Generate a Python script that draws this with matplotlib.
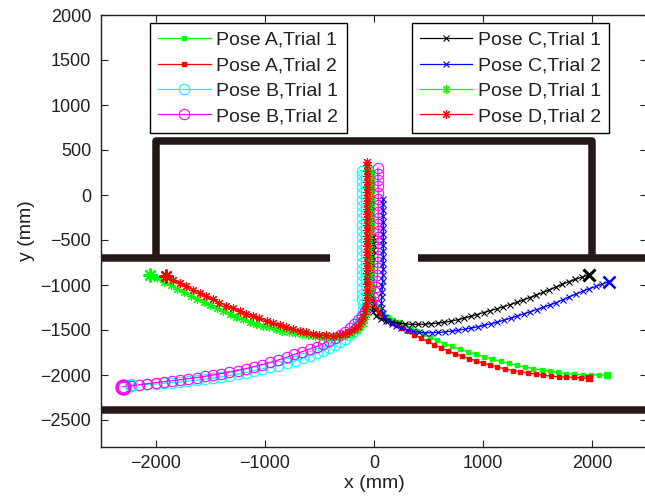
import matplotlib
matplotlib.use("Agg")
import matplotlib.pyplot as plt

plt.rcParams['font.family'] = ['Liberation Sans', 'DejaVu Sans']

# ---------------- data (mm) ----------------
a1_x = [2135, 2060, 1985, 1910, 1835, 1760, 1685, 1610, 1535, 1460, 1385, 1310, 1235, 1160, 1085, 1010, 935, 860,
        785, 715, 645, 580, 515, 452, 390, 335, 280, 225, 177, 130, 85, 50, 24, 5, -8, -15, -18, -20, -21, -22, -22,
        -22, -22, -22, -21, -21, -21, -20, -20, -20, -19, -19, -18, -18, -17]
a1_y = [-2000, -2001, -2000, -1997, -1992, -1984, -1972, -1959, -1945, -1929, -1911, -1892, -1870, -1848, -1823,
        -1797, -1769, -1741, -1713, -1682, -1650, -1616, -1582, -1547, -1510, -1478, -1446, -1414, -1385, -1350,
        -1315, -1275, -1235, -1190, -1140, -1080, -1010, -940, -870, -800, -730, -660, -590, -520, -450, -380, -310,
        -240, -170, -100, -30, 40, 110, 180, 250]

a2_x = [1966, 1900, 1829, 1760, 1690, 1620, 1550, 1480, 1410, 1340, 1270, 1200, 1130, 1064, 1000, 935, 870, 805,
        740, 675, 610, 550, 490, 430, 370, 315, 260, 210, 165, 120, 80, 45, 20, 0, -15, -24, -28, -30, -31, -32, -32,
        -32, -32, -32, -32, -32, -32, -31, -31, -31, -30, -30, -30, -29]
a2_y = [-2037, -2032, -2026, -2023, -2020, -2012, -2003, -1990, -1977, -1963, -1950, -1932, -1912, -1889, -1867,
        -1843, -1818, -1790, -1762, -1730, -1697, -1663, -1627, -1590, -1550, -1512, -1475, -1444, -1418, -1385,
        -1350, -1310, -1265, -1215, -1160, -1100, -1035, -970, -900, -830, -760, -690, -620, -550, -480, -410, -340,
        -270, -200, -130, -60, 10, 80, 150]

b1_x = [-2223, -2150, -2075, -2000, -1925, -1850, -1775, -1700, -1625, -1550, -1475, -1400, -1325, -1250, -1175,
        -1100, -1025, -950, -875, -800, -725, -650, -585, -526, -465, -410, -360, -312, -270, -230, -195, -165, -140,
        -122, -110, -105, -105, -107, -109, -111, -112, -112, -113, -113, -113, -114, -114, -114, -114, -114, -114,
        -114, -114, -114, -114, -113, -113, -112, -110]
b1_y = [-2111, -2110, -2105, -2100, -2093, -2086, -2078, -2068, -2058, -2047, -2035, -2021, -2006, -1990, -1973,
        -1953, -1932, -1914, -1895, -1872, -1845, -1812, -1785, -1759, -1728, -1696, -1663, -1630, -1595, -1558,
        -1520, -1478, -1432, -1383, -1330, -1275, -1215, -1155, -1095, -1035, -960, -890, -820, -750, -680, -610,
        -540, -470, -400, -330, -260, -190, -120, -50, 20, 90, 160, 220, 265]

b2_x = [-2300, -2225, -2150, -2075, -2000, -1925, -1850, -1775, -1700, -1625, -1550, -1475, -1400, -1325, -1250,
        -1175, -1100, -1025, -950, -875, -800, -730, -660, -590, -526, -465, -410, -358, -312, -265, -220, -180, -145,
        -110, -80, -52, -28, -8, 8, 20, 27, 31, 33, 35, 36, 37, 37, 38, 38, 38, 38, 38, 38, 38, 38, 37, 37, 36, 35]
b2_y = [-2130, -2120, -2108, -2096, -2085, -2074, -2063, -2052, -2040, -2028, -2015, -2000, -1985, -1968, -1950,
        -1930, -1908, -1885, -1860, -1832, -1802, -1772, -1742, -1712, -1685, -1652, -1618, -1585, -1556, -1520,
        -1478, -1435, -1390, -1340, -1290, -1240, -1188, -1135, -1080, -1020, -955, -885, -815, -745, -675, -605,
        -535, -465, -395, -325, -255, -185, -115, -45, 25, 95, 165, 235, 300]

c1_x = [1966, 1905, 1845, 1785, 1725, 1665, 1605, 1545, 1485, 1425, 1365, 1305, 1245, 1185, 1125, 1065, 1005, 945,
        885, 825, 765, 705, 645, 585, 525, 465, 405, 345, 285, 225, 165, 110, 60, 22, -5, -22, -35, -48, -58, -62,
        -55, -42, -30, -20, -12, -8, -5]
c1_y = [-889, -912, -937, -962, -992, -1024, -1054, -1083, -1112, -1140, -1168, -1194, -1219, -1242, -1264, -1285,
        -1306, -1328, -1349, -1368, -1387, -1402, -1414, -1423, -1430, -1436, -1438, -1437, -1432, -1424, -1412,
        -1397, -1378, -1345, -1300, -1240, -1170, -1100, -1030, -960, -890, -820, -750, -680, -610, -540, -470]

c2_x = [2150, 2090, 2030, 1970, 1910, 1850, 1790, 1730, 1670, 1610, 1550, 1490, 1430, 1370, 1310, 1250, 1190, 1130,
        1070, 1010, 950, 890, 830, 770, 710, 650, 590, 530, 470, 410, 355, 300, 250, 205, 165, 130, 100, 80, 70, 68,
        70, 73, 77, 80, 82, 83, 84, 85, 85, 85, 85, 85, 85, 84, 84, 83, 82, 82]
c2_y = [-963, -990, -1015, -1042, -1070, -1100, -1130, -1163, -1195, -1222, -1248, -1273, -1298, -1322, -1346,
        -1369, -1391, -1412, -1431, -1448, -1464, -1478, -1491, -1503, -1513, -1521, -1527, -1530, -1530, -1525,
        -1515, -1500, -1480, -1458, -1432, -1400, -1360, -1310, -1255, -1195, -1135, -1075, -1015, -950, -885, -820,
        -755, -690, -625, -560, -495, -430, -365, -300, -235, -170, -105, -40]

d1_x = [-2055, -1990, -1925, -1860, -1800, -1740, -1680, -1620, -1560, -1500, -1440, -1380, -1320, -1260, -1200,
        -1140, -1080, -1020, -960, -900, -840, -780, -720, -660, -600, -540, -480, -420, -360, -300, -250, -200, -160,
        -130, -105, -88, -75, -65, -57, -52, -48, -45, -43, -42, -42, -42, -42, -43, -43, -44, -44, -45, -45, -46,
        -46, -46, -47, -47, -47, -47, -46, -46, -45, -45]
d1_y = [-889, -925, -965, -1005, -1045, -1080, -1118, -1153, -1190, -1225, -1260, -1292, -1322, -1350, -1378, -1407,
        -1430, -1452, -1472, -1490, -1506, -1522, -1536, -1548, -1558, -1566, -1572, -1575, -1574, -1568, -1555,
        -1535, -1505, -1470, -1425, -1375, -1320, -1260, -1200, -1140, -1080, -1020, -960, -900, -840, -780, -720,
        -660, -600, -540, -480, -420, -360, -300, -240, -180, -120, -60, 0, 60, 120, 180, 240, 290]

d2_x = [-1908, -1845, -1780, -1720, -1660, -1596, -1535, -1475, -1415, -1355, -1291, -1230, -1170, -1110, -1050,
        -984, -925, -865, -805, -745, -679, -620, -560, -500, -440, -375, -320, -270, -225, -185, -150, -120, -98, -82,
        -72, -66, -62, -60, -60, -60, -61, -62, -62, -63, -63, -64, -64, -65, -65, -66, -66, -66, -67, -67, -67, -67,
        -66, -66, -65, -65, -64, -64]
d2_y = [-900, -940, -980, -1015, -1050, -1086, -1125, -1160, -1195, -1228, -1259, -1290, -1318, -1345, -1372, -1400,
        -1425, -1447, -1470, -1490, -1508, -1525, -1540, -1552, -1560, -1564, -1560, -1545, -1522, -1490, -1450,
        -1400, -1350, -1290, -1230, -1170, -1110, -1050, -990, -930, -870, -810, -750, -690, -630, -570, -510, -450,
        -390, -330, -270, -210, -150, -90, -30, 30, 90, 150, 210, 270, 330, 365]

labels = ['Pose A,Trial 1', 'Pose A,Trial 2', 'Pose B,Trial 1', 'Pose B,Trial 2',
          'Pose C,Trial 1', 'Pose C,Trial 2', 'Pose D,Trial 1', 'Pose D,Trial 2']

# walls (mm)
box_x = [-2000, -2000, 2000, 2000]
box_y = [-700, 600, 600, -700]
wall_left_x = [-2500, -400]
wall_right_x = [400, 2500]
wall_mid_y = [-700, -700]
wall_bottom_x = [-2500, 2500]
wall_bottom_y = [-2390, -2390]

x_ticks = [-2000, -1000, 0, 1000, 2000]
y_ticks = [-2500, -2000, -1500, -1000, -500, 0, 500, 1000, 1500, 2000]

# ---------------- figure ----------------
fig = plt.figure(figsize=(6.45, 4.96), dpi=100)
ax = fig.add_axes([101 / 645, 49 / 496, 546 / 645, 432 / 496])

wall_c = '#231815'
wlw = 5.4
ax.plot(box_x, box_y, color=wall_c, lw=wlw, solid_joinstyle='round', solid_capstyle='butt', zorder=1)
ax.plot(wall_left_x, wall_mid_y, color=wall_c, lw=wlw, solid_capstyle='butt', zorder=1)
ax.plot(wall_right_x, wall_mid_y, color=wall_c, lw=wlw, solid_capstyle='butt', zorder=1)
ax.plot(wall_bottom_x, wall_bottom_y, color=wall_c, lw=wlw, solid_capstyle='butt', zorder=1)

ast = (8, 2, 0)  # MATLAB-style asterisk
series = [
    (a1_x, a1_y, '#00ff00', 's', 2.2, 1.0, 4.5, 1.0),
    (a2_x, a2_y, '#ff0000', 's', 2.2, 1.0, 4.5, 1.0),
    (b1_x, b1_y, '#00ffff', 'o', 7.5, 0.8, 8.5, 1.0),
    (b2_x, b2_y, '#ff00ff', 'o', 7.5, 0.8, 10.0, 1.8),
    (c1_x, c1_y, '#000000', 'x', 5.0, 0.8, 8.0, 2.2),
    (c2_x, c2_y, '#0000ff', 'x', 5.0, 0.8, 9.0, 1.8),
    (d1_x, d1_y, '#00ff00', ast, 6.5, 0.8, 10.0, 1.6),
    (d2_x, d2_y, '#ff0000', ast, 6.5, 0.8, 10.0, 1.6),
]

handles = []
for (xs, ys, c, m, ms, mew, bms, bmew), lab in zip(series, labels):
    mfc = c if m == 's' else 'none'
    h, = ax.plot(xs, ys, color=c, lw=0.9, marker=m, ms=ms, mew=mew, mfc=mfc, mec=c, label=lab, zorder=3)
    ax.plot(xs[:1], ys[:1], color=c, ls='none', marker=m, ms=bms, mew=bmew, mfc=mfc, mec=c, zorder=4)
    handles.append(h)

ax.set_xlim(-2500, 2500)
ax.set_ylim(-2800, 2000)
ax.set_xticks(x_ticks)
ax.set_yticks(y_ticks)
ax.tick_params(direction='in', length=5, width=0.8, top=True, right=True, labelsize=13, colors='#231f20')
ax.tick_params(axis='x', pad=6)
ax.tick_params(axis='y', pad=7)
for s in ax.spines.values():
    s.set_color('#231f20')
    s.set_linewidth(1.0)

ax.set_xlabel('x (mm)', fontsize=14, labelpad=2, color='#231f20')
ax.set_ylabel('y (mm)', fontsize=14, labelpad=4, color='#231f20')

leg_kw = dict(loc='upper left', borderaxespad=0, fontsize=14, frameon=True, fancybox=False,
              edgecolor='#000000', framealpha=1, handlelength=2.7, handletextpad=0.3,
              labelspacing=0.4, borderpad=0.42, numpoints=1)
leg1 = ax.legend(handles[:4], labels[:4], bbox_to_anchor=(0.0897, 0.981), **leg_kw)
leg1.get_frame().set_linewidth(1.0)
ax.add_artist(leg1)
leg2 = ax.legend(handles[4:], labels[4:], bbox_to_anchor=(0.5687, 0.981), **leg_kw)
leg2.get_frame().set_linewidth(1.0)
for lg in (leg1, leg2):
    for t in lg.get_texts():
        t.set_color('#231f20')

fig.savefig('out.png', dpi=100)
